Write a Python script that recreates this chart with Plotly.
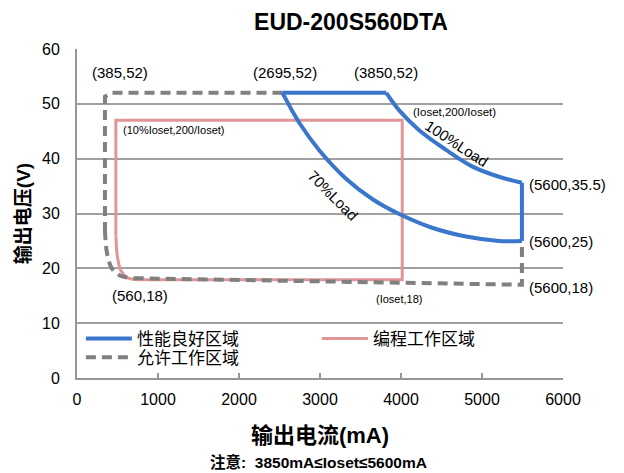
import plotly.graph_objects as go

# Performance region (blue)
blue_top_x = [2537, 3818]
blue_top_y = [52, 52]
load100_x = [3818, 3978, 4224, 4557, 4877, 5209, 5493]
load100_y = [52, 48.8, 45.2, 41.6, 38.6, 36.7, 35.6]
blue_right_x = [5493, 5493]
blue_right_y = [35.6, 25.0]
load70_x = [5493, 5209, 4803, 4384, 3978, 3650, 3325, 2993, 2746, 2537]
load70_y = [25.0, 25.0, 25.8, 27.4, 29.9, 32.6, 36.3, 41.5, 46.5, 52]

# Programming region (pink): straight edges + rounded lower-left corner
pink_x = [480, 480, 4015, 4015, 760]
pink_y = [26, 47, 47, 17.9, 17.9]
pink_corner_x = [480, 500, 545, 620, 760]
pink_corner_y = [26, 22.0, 19.5, 18.3, 17.9]

# Allowed region (grey dashed)
grey_x = [2537, 420, 345, 345]
grey_y = [52, 52, 51.3, 27]
grey_corner_x = [345, 370, 430, 530, 700]
grey_corner_y = [27, 22.8, 20.0, 18.7, 18.2]
grey_bottom_x = [700, 5493, 5493]
grey_bottom_y = [18.2, 17.0, 25.0]

names = ["性能良好区域", "编程工作区域", "允许工作区域"]

x_ticks = [0, 1000, 2000, 3000, 4000, 5000, 6000]
y_ticks = [0, 10, 20, 30, 40, 50, 60]

# annotations: (text, x, y, size, angle, xanchor)
labels = [
    ("(385,52)", 530, 55.7, 15, 0, "center"),
    ("(2695,52)", 2562, 55.7, 15, 0, "center"),
    ("(3850,52)", 3818, 55.7, 15, 0, "center"),
    ("(Ioset,200/Ioset)", 4655, 48.5, 11.5, 0, "center"),
    ("100%Load", 4690, 42.8, 15, 33, "center"),
    ("70%Load", 3160, 33.2, 15, 45, "center"),
    ("(10%Ioset,200/Ioset)", 545, 45.3, 11, 0, "left"),
    ("(5600,35.5)", 5554, 35.3, 15, 0, "left"),
    ("(5600,25)", 5554, 24.9, 15, 0, "left"),
    ("(5600,18)", 5554, 16.5, 15, 0, "left"),
    ("(560,18)", 776, 15.0, 15, 0, "center"),
    ("(Ioset,18)", 3978, 14.4, 11, 0, "center"),
]

BLUE = "rgb(58,118,204)"
PINK = "rgb(222,150,150)"
GREY = "rgb(128,128,128)"
AXIS = "rgb(150,150,150)"

FONT = "Liberation Sans, Arial, Noto Sans CJK SC, sans-serif"
CJK = "Liberation Sans, Noto Sans CJK SC, sans-serif"

fig = go.Figure()
# pink
fig.add_trace(go.Scatter(x=pink_x, y=pink_y, mode="lines", name=names[1], legend="legend",
                         legendrank=2, line=dict(color=PINK, width=3)))
fig.add_trace(go.Scatter(x=pink_corner_x, y=pink_corner_y, mode="lines", showlegend=False,
                         line=dict(color=PINK, width=3, shape="spline"), hoverinfo="skip"))
# grey dashed
fig.add_trace(go.Scatter(x=grey_x, y=grey_y, mode="lines", name=names[2], legend="legend2",
                         line=dict(color=GREY, width=4, dash="10px,6px")))
fig.add_trace(go.Scatter(x=grey_corner_x, y=grey_corner_y, mode="lines", showlegend=False,
                         line=dict(color=GREY, width=4, dash="10px,6px", shape="spline"),
                         hoverinfo="skip"))
fig.add_trace(go.Scatter(x=grey_bottom_x, y=grey_bottom_y, mode="lines", showlegend=False,
                         line=dict(color=GREY, width=4, dash="10px,6px"), hoverinfo="skip"))
# blue on top
fig.add_trace(go.Scatter(x=blue_top_x, y=blue_top_y, mode="lines", name=names[0], legend="legend",
                         legendrank=1, line=dict(color=BLUE, width=4)))
for xs, ys, sh in [(load100_x, load100_y, "spline"), (blue_right_x, blue_right_y, "linear"),
                   (load70_x, load70_y, "spline")]:
    fig.add_trace(go.Scatter(x=xs, y=ys, mode="lines", showlegend=False,
                             line=dict(color=BLUE, width=4, shape=sh), hoverinfo="skip"))

for t, x, y, s, a, xa in labels:
    fig.add_annotation(x=x, y=y, text=t, showarrow=False, textangle=a,
                       xanchor=xa, yanchor="middle",
                       font=dict(size=s, color="black", family=FONT))

fig.add_annotation(xref="paper", yref="paper", x=0.497, y=-0.255,
                   text="<b>注意:  3850mA≤Ioset≤5600mA</b>", showarrow=False,
                   xanchor="center", yanchor="middle",
                   font=dict(size=15.5, color="black", family=CJK))

leg_common = dict(orientation="h", xanchor="left", yanchor="middle",
                  itemwidth=46, entrywidth=175, entrywidthmode="pixels",
                  font=dict(size=17, family=CJK, color="black"),
                  bgcolor="rgba(0,0,0,0)", borderwidth=0, traceorder="normal")

fig.update_layout(
    width=624, height=473,
    margin=dict(l=69, r=69, t=41, b=103),
    paper_bgcolor="white", plot_bgcolor="white",
    title=dict(text="<b>EUD-200S560DTA</b>", x=343/624, xanchor="center",
               y=1 - 14/473, yanchor="middle",
               font=dict(size=23, color="black", family=FONT)),
    font=dict(family=CJK, color="black", size=15),
    legend=dict(x=0.008, y=0.1185, **leg_common),
    legend2=dict(x=0.008, y=0.062, **leg_common),
    showlegend=True,
)
fig.update_xaxes(range=[0, 6000], tickvals=x_ticks, showgrid=False, zeroline=False,
                 showline=True, linecolor=AXIS, linewidth=2,
                 ticks="inside", ticklen=5, tickcolor=AXIS, tickwidth=2,
                 tickfont=dict(size=16, family=FONT), ticklabelstandoff=6,
                 title=dict(text="<b>输出电流(mA)</b>", font=dict(size=22, family=CJK), standoff=20))
fig.update_yaxes(range=[0, 60], tickvals=y_ticks, showgrid=True, gridcolor="rgb(160,160,160)",
                 gridwidth=2, zeroline=False, showline=True, linecolor=AXIS, linewidth=2,
                 tickfont=dict(size=16, family=FONT), ticklabelstandoff=12,
                 title=dict(text="<b>输出电压(V)</b>", font=dict(size=19, family=CJK), standoff=6))

fig.write_html("out.html")
